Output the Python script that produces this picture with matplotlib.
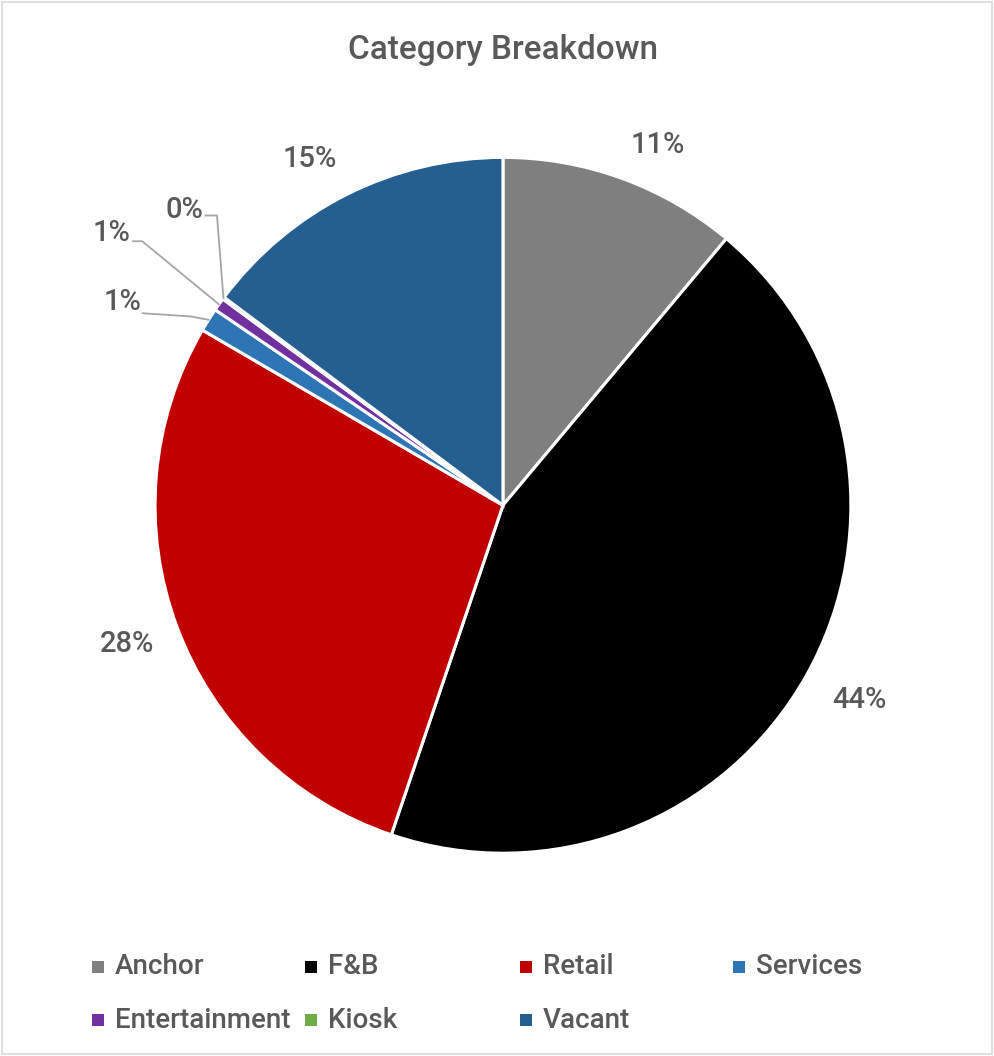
import matplotlib.pyplot as plt
import numpy as np
from matplotlib.patches import Rectangle

categories = ["Anchor", "F&B", "Retail", "Services", "Entertainment", "Kiosk", "Vacant"]
shares = [11.1, 44.1, 28.2, 1.1, 0.6, 0.1, 14.8]
colors = ["#7F7F7F", "#000000", "#C00000", "#2E75B6", "#7030A0", "#70AD47", "#255E91"]

TEXT = "#595959"
plt.rcParams["font.family"] = ["Roboto", "DejaVu Sans"]

fig = plt.figure(figsize=(9.94, 10.56), dpi=100)
fig.patches.append(
    Rectangle((0.002, 0.002), 0.996, 0.996, transform=fig.transFigure,
              fill=False, edgecolor="#D9D9D9", linewidth=1.2)
)

ax = fig.add_axes([0.156, 0.192, 0.700, 0.659])
wedges, _ = ax.pie(
    shares,
    colors=colors,
    startangle=90,
    counterclock=False,
    radius=1.0,
    wedgeprops=dict(edgecolor="white", linewidth=2.2),
)
ax.set_xlim(-1, 1)
ax.set_ylim(-1, 1)
ax.set_aspect("equal")
ax.axis("off")

# label spots (axes data units), Excel-like best fit
label_pos = {
    0: (0.445, 1.037),
    1: (1.026, -0.560),
    2: (-1.080, -0.399),
    6: (-0.555, 0.994),
}
# tiny slices: text spot, leader start, elbow -> then to the wedge edge
leader = {
    3: ((-1.095, 0.583), (-1.036, 0.552), (-0.899, 0.543)),
    4: ((-1.124, 0.784), (-1.064, 0.759), (-1.037, 0.759)),
    5: ((-0.917, 0.848), (-0.855, 0.833), (-0.822, 0.833)),
}
for i, w in enumerate(wedges):
    mid = np.deg2rad((w.theta1 + w.theta2) / 2)
    label = f"{shares[i]:.0f}%"
    if i in leader:
        txt, start, elbow = leader[i]
        edge = (np.cos(mid), np.sin(mid))
        ax.plot([start[0], elbow[0], edge[0]], [start[1], elbow[1], edge[1]],
                color="#A6A6A6", linewidth=1.3, clip_on=False)
    else:
        txt = label_pos[i]
    ax.text(txt[0], txt[1], label, ha="center", va="center",
            fontsize=21, fontweight="medium", color=TEXT)

fig.text(0.506, 0.953, "Category Breakdown", ha="center", va="center",
         fontsize=24, fontweight="medium", color=TEXT)

# legend, fixed column widths like the original
col_x = [98, 311, 526, 739]
row_y = [967, 1020]
W, H = 994, 1056
for i, (name, c) in enumerate(zip(categories, colors)):
    px = col_x[i % 4]
    py = row_y[i // 4]
    fig.patches.append(
        Rectangle(((px - 6) / W, 1 - (py + 6) / H), 12 / W, 12 / H,
                  transform=fig.transFigure, facecolor=c, edgecolor="none")
    )
    fig.text((px + 17) / W, 1 - py / H, name, ha="left", va="center",
             fontsize=20, fontweight="medium", color=TEXT)

fig.savefig("out.png", dpi=100)
